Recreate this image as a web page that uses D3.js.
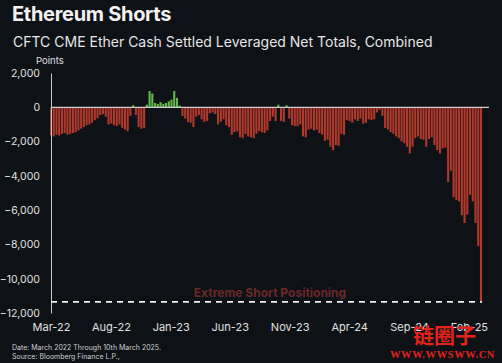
<!DOCTYPE html>
<html>
<head>
<meta charset="utf-8">
<script src="https://cdn.jsdelivr.net/npm/d3@7"></script>
<style>
  html, body { margin: 0; padding: 0; background: #0e1116; }
  svg { display: block; font-family: Inter, "Noto Sans", sans-serif; }
</style>
</head>
<body>
<div id="chart"></div>
<script>
// weekly CFTC reports, first one on Tue 1 Mar 2022
var startDate = "2022-03-01";
var netTotals = [
  -1650, -1700, -1600, -1650, -1550, -1500, -1600, -1550, -1500, -1450,
  -1350, -1250, -1150, -1050, -1000, -900, -750, -650, -450, -400,
  -550, -1000, -950, -1050, -1100, -1000, -1200, -1300, -1400, -500,
  120, -450, -1150, -1250, -1200, 150, 950, 800, 250, 200,
  300, 200, 250, 350, 450, 950, 550, 100, -500, -650,
  -850, -900, -1150, -550, -450, -700, -850, -800, -350, -300,
  -400, -1000, -850, -700, -1050, -1150, -1600, -1450, -1400, -1750,
  -1800, -1550, -1700, -1750, -1800, -1550, -1400, -1450, -1500, -1350,
  -800, -550, -800, 150, -800, -850, 120, -650, -1050, -1100,
  -1100, -1000, -1700, -1750, -1300, -1250, -1350, -1300, -1500, -1600,
  -1950, -1900, -2300, -2500, -2200, -2250, -1550, -1600, -750, -800,
  -900, -700, -800, -650, -950, -900, -700, -750, -700, -300,
  -150, -500, -1200, -1300, -1450, -1550, -1700, -1800, -2000, -2100,
  -2300, -2700, -2300, -1800, -1700, -1850, -1900, -2300, -1850, -1750,
  -2200, -2500, -2700, -2400, -2350, -4350, -3700, -5250, -5400, -5500,
  -6300, -6750, -6250, -5100, -5500, -6750, -8100, -11350
];
var yTicks = [2000, 0, -2000, -4000, -6000, -8000, -10000, -12000];
var xTicks = ["2022-03-01", "2022-08-01", "2023-01-01", "2023-06-01",
              "2023-11-01", "2024-04-01", "2024-09-01", "2025-02-01"];
var extremeLevel = -11350;

var W = 502, H = 363;
var parse = d3.timeParse("%Y-%m-%d");
var t0 = parse(startDate);
var data = netTotals.map(function(v, i) {
  return { date: d3.timeDay.offset(t0, 7 * i), value: v };
});

var svg = d3.select("#chart").append("svg")
  .attr("width", W).attr("height", H);

svg.append("rect").attr("width", W).attr("height", H).attr("fill", "#0e1116");

var x = d3.scaleTime()
  .domain([t0, data[data.length - 1].date])
  .range([51, 481]);
var y = d3.scaleLinear().domain([-12000, 2000]).range([313, 73]);

// titles
svg.append("text").attr("x", 12).attr("y", 21)
  .attr("fill", "#f2f2f2").attr("font-size", 20).attr("font-weight", 700)
  .attr("letter-spacing", -0.3)
  .text("Ethereum Shorts");
svg.append("text").attr("x", 13).attr("y", 47)
  .attr("fill", "#e6e6e6").attr("font-size", 14)
  .text("CFTC CME Ether Cash Settled Leveraged Net Totals, Combined");
svg.append("text").attr("x", 36).attr("y", 64)
  .attr("fill", "#e0e0e0").attr("font-size", 9.5)
  .text("Points");

// bars
var bw = 2.1;
svg.append("g").selectAll("rect").data(data).enter().append("rect")
  .attr("x", function(d) { return x(d.date) - bw / 2; })
  .attr("width", bw)
  .attr("y", function(d) { return y(Math.max(0, d.value)); })
  .attr("height", function(d) { return Math.abs(y(d.value) - y(0)); })
  .attr("fill", function(d) { return d.value >= 0 ? "#62b94a" : "#b13a2c"; });

// y axis
var yAxis = svg.append("g")
  .attr("transform", "translate(51,0)")
  .call(d3.axisLeft(y).tickValues(yTicks).tickSize(0).tickSizeOuter(0).tickPadding(11)
    .tickFormat(d3.format(",")));
yAxis.select(".domain").attr("stroke", "#c8c8c8").attr("stroke-width", 1);
yAxis.selectAll("text").attr("fill", "#e0e0e0").attr("font-size", 10.5)
  .attr("font-family", "Inter, sans-serif");

// zero line
svg.append("line")
  .attr("x1", 51).attr("x2", 489)
  .attr("y1", y(0)).attr("y2", y(0))
  .attr("stroke", "#cfcfcf").attr("stroke-width", 1.2);

// x axis
var xAxis = svg.append("g")
  .attr("transform", "translate(0,319)")
  .call(d3.axisBottom(x).tickValues(xTicks.map(parse)).tickSize(0).tickPadding(4)
    .tickFormat(d3.timeFormat("%b-%y")));
xAxis.select(".domain").remove();
xAxis.selectAll("text").attr("fill", "#e0e0e0").attr("font-size", 11)
  .attr("font-family", "Inter, sans-serif");

// extreme short line
svg.append("line")
  .attr("x1", 51).attr("x2", 482)
  .attr("y1", y(extremeLevel)).attr("y2", y(extremeLevel))
  .attr("stroke", "#f0f0f0").attr("stroke-width", 1.8)
  .attr("stroke-dasharray", "6,5");
svg.append("text")
  .attr("x", 270).attr("y", 297)
  .attr("text-anchor", "middle")
  .attr("fill", "#6a2a2a").attr("font-size", 12).attr("font-weight", 700)
  .text("Extreme Short Positioning");

// footer
svg.append("text").attr("x", 12).attr("y", 350)
  .attr("fill", "#d0d0d0").attr("font-size", 7)
  .text("Date: March 2022 Through 10th March 2025.");
svg.append("text").attr("x", 12).attr("y", 359)
  .attr("fill", "#d0d0d0").attr("font-size", 7)
  .text("Source: Bloomberg Finance L.P.,");

// watermark
svg.append("text").attr("x", 413).attr("y", 343)
  .attr("fill", "#e3231c").attr("font-size", 21).attr("font-weight", 700)
  .attr("font-family", "'Noto Sans CJK SC', sans-serif")
  .text("链圈子");
svg.append("text").attr("x", 390).attr("y", 358)
  .attr("fill", "#e3231c").attr("font-size", 10.5).attr("font-weight", 700)
  .attr("font-family", "'Liberation Serif', serif")
  .attr("letter-spacing", 0.6)
  .text("WWW.WWSWW.CN");
</script>
</body>
</html>
